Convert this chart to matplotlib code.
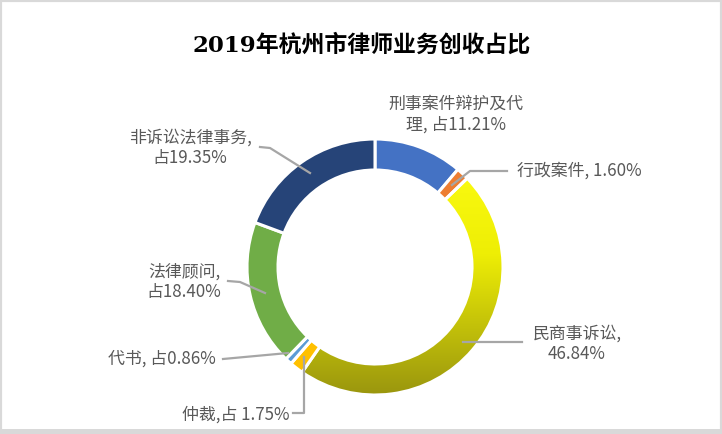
"""Donut chart: share of Hangzhou lawyer business revenue in 2019."""
import numpy as np
import matplotlib
matplotlib.use("Agg")
import matplotlib.pyplot as plt
from matplotlib.colors import to_rgb
from matplotlib.patches import Rectangle

plt.rcParams["font.family"] = ["Noto Sans CJK SC", "DejaVu Sans"]

# data, clockwise from 12 o'clock
categories = ["刑事案件辩护及代理", "行政案件", "民商事诉讼", "仲裁", "代书", "法律顾问", "非诉讼法律事务"]
shares = [11.21, 1.60, 46.84, 1.75, 0.86, 18.40, 19.35]
labels = ["刑事案件辩护及代\n理, 占11.21%", "行政案件, 1.60%", "民商事诉讼,\n46.84%",
          "仲裁,占 1.75%", "代书, 占0.86%", "法律顾问,\n占18.40%", "非诉讼法律事务,\n占19.35%"]
colors = ["#4472C4", "#ED7D31", "#E8E800", "#FFC000", "#5B9BD5", "#70AD47", "#264478"]

W, H = 722, 434
CX, CY, R = 375, 267, 128
TEXT = "#595959"
LEAD = "#A6A6A6"

fig = plt.figure(figsize=(W / 100, H / 100), dpi=100)
ax = fig.add_axes([0, 0, 1, 1])

# y axis points down so positions read like pixels; counterclock in data = clockwise on screen
wedges, _ = ax.pie(shares, colors=colors, startangle=270, counterclock=True,
                   radius=R, center=(CX, CY),
                   wedgeprops=dict(width=31, edgecolor="white", linewidth=2.2))

# gradient fill for the big yellow slice
stops_y = [0.0, 0.45, 1.0]
stops_c = [to_rgb("#FFFF14"), to_rgb("#EEEE05"), to_rgb("#9A960E")]
n = 300
t = np.linspace(0, 1, n)
grad = np.zeros((n, 2, 3))
for k in range(3):
    col = np.interp(t, stops_y, [c[k] for c in stops_c])
    grad[:, :, k] = col[:, None]
big = wedges[2]
big.set_facecolor("none")
im = ax.imshow(grad, extent=(CX - R, CX + R, CY + R, CY - R), origin="upper",
               interpolation="bilinear", zorder=0.5, aspect="auto")
im.set_clip_path(big)

ax.set_xlim(0, W)
ax.set_ylim(H, 0)
ax.set_aspect("equal")
ax.axis("off")

# title
ax.text(362, 45, "2019年杭州市律师业务创收占比", ha="center", va="center",
        fontsize=16.5, fontweight="bold", color="black",
        family=["DejaVu Serif", "Noto Sans CJK SC"])

fs = 12.2
# data labels
ax.text(456, 114, labels[0], ha="center", va="center", fontsize=fs, color=TEXT, linespacing=1.2)
ax.text(517, 171, labels[1], ha="left", va="center", fontsize=fs, color=TEXT)
ax.text(577, 344, labels[2], ha="center", va="center", fontsize=fs, color=TEXT, linespacing=1.2)
ax.text(182, 415, labels[3], ha="left", va="center", fontsize=fs, color=TEXT)
ax.text(108, 359, labels[4], ha="left", va="center", fontsize=fs, color=TEXT)
ax.text(184, 282, labels[5], ha="center", va="center", fontsize=fs, color=TEXT, linespacing=1.2)
ax.text(190, 148, labels[6], ha="center", va="center", fontsize=fs, color=TEXT, linespacing=1.2)

# leader lines
lw = 1.6
ax.plot([452, 470, 507], [185, 171, 171], color=LEAD, lw=lw, zorder=3)
ax.plot([463, 522], [342, 342], color=LEAD, lw=lw, zorder=3)
ax.plot([293, 304, 304], [413, 413, 357], color=LEAD, lw=lw, zorder=3)
ax.plot([223, 288], [359, 353], color=LEAD, lw=lw, zorder=3)
ax.plot([228, 240, 265], [281, 282, 293], color=LEAD, lw=lw, zorder=3)
ax.plot([260, 270, 310], [147, 148, 173], color=LEAD, lw=lw, zorder=3)

# frame around the screenshot
fig.add_artist(Rectangle((0, 0), 1, 1, transform=fig.transFigure, fill=False,
                         edgecolor="#D9D9D9", linewidth=3))
fig.add_artist(Rectangle((0, 0), 1, 5 / H, transform=fig.transFigure,
                         facecolor="#D9D9D9", edgecolor="none"))

fig.savefig("out.png", dpi=100)
